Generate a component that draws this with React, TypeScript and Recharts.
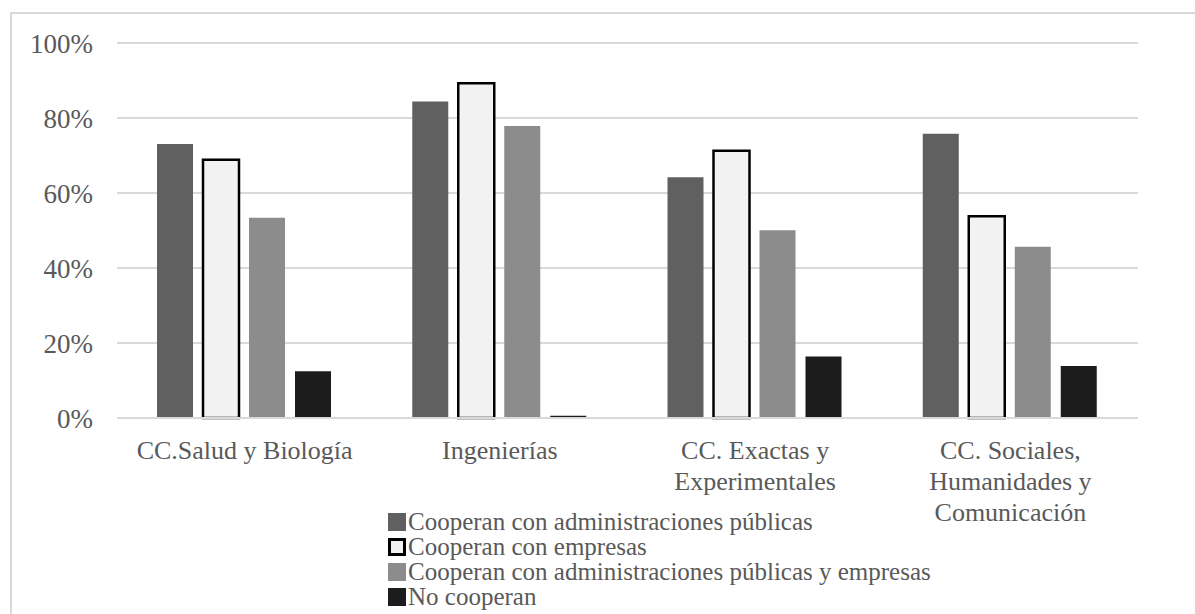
import { BarChart, Bar, XAxis, YAxis, CartesianGrid, Legend } from 'recharts'

const categories = [
  'CC.Salud y Biología',
  'Ingenierías',
  'CC. Exactas y Experimentales',
  'CC. Sociales, Humanidades y Comunicación',
]

// how each category label is broken over lines under the axis
const categoryLines = [
  ['CC.Salud y Biología'],
  ['Ingenierías'],
  ['CC. Exactas y', 'Experimentales'],
  ['CC. Sociales,', 'Humanidades y', 'Comunicación'],
]

const adminPublicas = [73.1, 84.4, 64.2, 75.8]
const empresas = [68.9, 89.3, 71.3, 53.8]
const adminYEmpresas = [53.4, 77.9, 50.1, 45.7]
const noCooperan = [12.5, 0.6, 16.4, 13.9]

const yTicks = [0, 20, 40, 60, 80, 100]

const seriesNames = [
  'Cooperan con administraciones públicas',
  'Cooperan con empresas',
  'Cooperan con administraciones públicas y empresas',
  'No cooperan',
]

const data = categories.map((name, i) => ({
  name,
  admin: adminPublicas[i],
  empresas: empresas[i],
  ambos: adminYEmpresas[i],
  no: noCooperan[i],
}))

const FONT = '"Liberation Serif", "Times New Roman", serif'
const TEXT = '#595959'
const GRID = '#d9d9d9'

const swatches = [
  { fill: '#606060', border: 'none' },
  { fill: '#f2f2f2', border: '3px solid #000' },
  { fill: '#8c8c8c', border: 'none' },
  { fill: '#1c1c1c', border: 'none' },
]

function CategoryTick({ x, y, payload }: any) {
  const lines = categoryLines[payload.index] ?? [payload.value]
  return (
    <text x={x} y={y} textAnchor="middle" fill={TEXT} fontSize={26} fontFamily={FONT}>
      {lines.map((line, i) => (
        <tspan key={i} x={x} dy={i === 0 ? 41 : 31}>{line}</tspan>
      ))}
    </text>
  )
}

function SeriesLegend() {
  return (
    <div style={{ height: 100, fontFamily: FONT, fontSize: 25, color: TEXT }}>
      {seriesNames.map((name, i) => (
        <div key={name} style={{ display: 'flex', alignItems: 'center', height: 25, lineHeight: '25px', whiteSpace: 'nowrap' }}>
          <span
            style={{
              display: 'inline-block',
              width: 18,
              height: 18,
              boxSizing: 'border-box',
              background: swatches[i].fill,
              border: swatches[i].border,
              marginRight: 2,
            }}
          />
          {name}
        </div>
      ))}
    </div>
  )
}

export default function App() {
  return (
    <div style={{ position: 'absolute', left: 0, top: 0, width: 1195, height: 614, overflow: 'hidden', background: '#fff' }}>
      <div
        style={{
          position: 'absolute',
          left: 10,
          top: 12,
          width: 1400,
          height: 800,
          border: `2px solid ${GRID}`,
        }}
      />
      <div style={{ position: 'absolute', left: 0, top: 0 }}>
        <BarChart
          width={1195}
          height={614}
          data={data}
          margin={{ top: 43, right: 57, left: 0, bottom: 5 }}
          barCategoryGap={40}
          barGap={10}
        >
          <CartesianGrid vertical={false} stroke={GRID} strokeWidth={2} />
          <XAxis
            dataKey="name"
            height={91}
            interval={0}
            tick={<CategoryTick />}
            tickLine={false}
            tickSize={0}
            tickMargin={0}
            axisLine={{ stroke: GRID, strokeWidth: 2 }}
          />
          <YAxis
            width={117}
            domain={[0, 100]}
            ticks={yTicks}
            tickFormatter={v => `${v}%`}
            tick={{ fontSize: 27, fill: TEXT, fontFamily: FONT }}
            tickLine={false}
            tickSize={0}
            tickMargin={24}
            axisLine={false}
          />
          <Legend
            verticalAlign="bottom"
            align="left"
            content={<SeriesLegend />}
            wrapperStyle={{ left: 388, width: 700, height: 100 }}
          />
          <Bar dataKey="admin" name={seriesNames[0]} fill="#606060" isAnimationActive={false} />
          <Bar dataKey="empresas" name={seriesNames[1]} fill="#f2f2f2" stroke="#000" strokeWidth={2.5} isAnimationActive={false} />
          <Bar dataKey="ambos" name={seriesNames[2]} fill="#8c8c8c" isAnimationActive={false} />
          <Bar dataKey="no" name={seriesNames[3]} fill="#1c1c1c" isAnimationActive={false} />
        </BarChart>
      </div>
    </div>
  )
}
